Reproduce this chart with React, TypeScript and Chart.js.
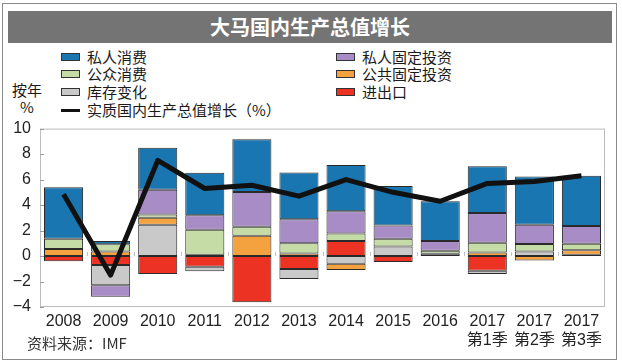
import React, { useEffect, useRef } from 'react';
import { Chart, registerables } from 'chart.js';

Chart.register(...registerables);

// ---- data ----
const categories: (string | string[])[] = [
  '2008', '2009', '2010', '2011', '2012', '2013', '2014', '2015', '2016',
  ['2017', '第1季'], ['2017', '第2季'], ['2017', '第3季'],
];
const netExports = [-0.4, -0.7, -1.42, -0.85, -3.62, -1.02, 1.17, -0.47, null, -1.15, null, 0.1];
const inventory = [null, -1.6, 2.45, -0.35, null, -0.78, -0.6, 0.75, 0.17, -0.27, 0.35, null];
const publicInvestment = [0.55, 0.36, 0.55, 0.1, 1.6, 0.2, -0.5, null, null, 0.28, -0.35, 0.35];
const publicConsumption = [0.8, 0.56, 0.25, 1.96, 0.7, 0.8, 0.6, 0.6, 0.25, 0.76, 0.6, 0.52];
const privateInvestment = [null, -0.9, 1.95, 1.14, 2.73, 1.89, 1.75, 1.05, 0.75, 2.34, 1.5, 1.39];
const privateConsumption = [4.05, 0.25, 3.3, 3.33, 4.14, 3.66, 3.62, 3.1, 3.13, 3.67, 3.8, 3.94];
const gdpGrowth = [4.85, -1.5, 7.5, 5.3, 5.55, 4.7, 6.0, 5.0, 4.3, 5.7, 5.85, 6.3];
const yTicks = [10, 8, 6, 4, 2, 0, -2, -4];

const titleText = '大马国内生产总值增长';
const seriesNames = {
  privateConsumption: '私人消费',
  publicConsumption: '公众消费',
  inventory: '库存变化',
  privateInvestment: '私人固定投资',
  publicInvestment: '公共固定投资',
  netExports: '进出口',
  gdp: '实质国内生产总值增长（%）',
};
const unitLabel = ['按年', '%'];
const sourceText = '资料来源：IMF';

// ---- styles ----
const COLORS = {
  privateConsumption: '#1a76b0',
  publicConsumption: '#c6dca6',
  inventory: '#c9c9c9',
  privateInvestment: '#a88cc6',
  publicInvestment: '#f4a23f',
  netExports: '#ec3323',
};
const FONT = '"Liberation Sans", "Noto Sans CJK SC", Arial, sans-serif';
const CJK = '"Noto Sans CJK SC", "Liberation Sans", sans-serif';

const framePlugin = {
  id: 'frame',
  beforeDatasetsDraw(chart: any) {
    const { ctx, chartArea: a, scales } = chart;
    ctx.save();
    ctx.strokeStyle = '#bdbdbd';
    ctx.lineWidth = 1;
    ctx.strokeRect(a.left + 0.5, a.top + 0.5, a.right - a.left - 1, a.bottom - a.top - 1);
    const y = scales.y;
    const x = scales.x;
    ctx.strokeStyle = '#9a9a9a';
    y.ticks.forEach((t: any) => {
      const py = Math.round(y.getPixelForValue(t.value)) + 0.5;
      ctx.beginPath();
      ctx.moveTo(a.left, py);
      ctx.lineTo(a.left + 4, py);
      ctx.stroke();
    });
    const z = Math.round(y.getPixelForValue(0));
    ctx.strokeStyle = '#c4c4c4';
    for (let i = 1; i < categories.length; i++) {
      const px = Math.round((x.getPixelForValue(i - 1) + x.getPixelForValue(i)) / 2) + 0.5;
      ctx.beginPath();
      ctx.moveTo(px, z);
      ctx.lineTo(px, z - 4);
      ctx.stroke();
    }
    ctx.restore();
  },
};

function bar(label: string, data: (number | null)[], color: string) {
  return {
    type: 'bar' as const,
    label,
    data,
    backgroundColor: color,
    borderColor: '#2a2a2a',
    borderWidth: 1,
    borderSkipped: false,
    stack: 'main',
    order: 1,
    barPercentage: 0.83,
    categoryPercentage: 1,
  };
}

function ChartCanvas() {
  const ref = useRef<HTMLCanvasElement | null>(null);
  useEffect(() => {
    if (!ref.current) return;
    const chart = new Chart(ref.current, {
      type: 'bar',
      data: {
        labels: categories as any,
        datasets: [
          {
            type: 'line' as const,
            label: seriesNames.gdp,
            data: gdpGrowth,
            borderColor: '#111111',
            borderWidth: 5,
            pointRadius: 0,
            tension: 0,
            borderJoinStyle: 'round',
            borderCapStyle: 'butt',
            stack: 'gdp',
            order: 0,
          } as any,
          bar(seriesNames.netExports, netExports, COLORS.netExports),
          bar(seriesNames.inventory, inventory, COLORS.inventory),
          bar(seriesNames.publicInvestment, publicInvestment, COLORS.publicInvestment),
          bar(seriesNames.publicConsumption, publicConsumption, COLORS.publicConsumption),
          bar(seriesNames.privateInvestment, privateInvestment, COLORS.privateInvestment),
          bar(seriesNames.privateConsumption, privateConsumption, COLORS.privateConsumption),
        ],
      },
      options: {
        responsive: false,
        animation: false,
        layout: { padding: { left: 0, right: 17, top: 12, bottom: 0 } },
        plugins: {
          legend: { display: false },
          tooltip: { enabled: false },
          title: { display: false },
        },
        scales: {
          x: {
            stacked: true,
            grid: { display: false, drawTicks: false },
            border: { display: false },
            ticks: {
              padding: 5,
              color: '#222222',
              font: { family: FONT, size: 16 },
              maxRotation: 0,
              autoSkip: false,
            },
            afterFit: (s: any) => { s.height = 56; },
          },
          y: {
            stacked: true,
            min: -4,
            max: 10,
            grid: { display: false, drawTicks: false },
            border: { display: false },
            afterBuildTicks: (s: any) => { s.ticks = yTicks.map((v) => ({ value: v })); },
            ticks: {
              padding: 9,
              color: '#222222',
              font: { family: FONT, size: 16 },
              callback: (v: any) => (Number(v) < 0 ? '\u2212' + Math.abs(Number(v)) : String(v)),
            },
            afterFit: (s: any) => { s.width = 40; },
          },
        },
      },
      plugins: [framePlugin],
    });
    return () => chart.destroy();
  }, []);
  return <canvas ref={ref} width={622} height={253} style={{ display: 'block', width: 622, height: 253 }} />;
}

function Swatch({ color }: { color: string }) {
  return (
    <span style={{
      position: 'absolute', left: 0, top: 5, width: 19, height: 8,
      background: color, border: '1px solid #333', boxSizing: 'border-box',
    }} />
  );
}

function LegendItem({ left, top, color, text, line }: { left: number; top: number; color?: string; text: string; line?: boolean }) {
  return (
    <div style={{ position: 'absolute', left, top, height: 18, lineHeight: '18px', fontSize: 15, fontFamily: CJK, color: '#1a1a1a', whiteSpace: 'nowrap' }}>
      {line ? (
        <span style={{ position: 'absolute', left: 0, top: 8, width: 19, height: 3, background: '#111' }} />
      ) : (
        <Swatch color={color as string} />
      )}
      <span style={{ position: 'absolute', left: 26, top: 0 }}>{text}</span>
    </div>
  );
}

export default function App() {
  const rows = [48, 65, 83, 101];
  return (
    <div style={{ position: 'fixed', left: 0, top: 0, width: 622, height: 363, background: '#ffffff', overflow: 'hidden' }}>
      <div style={{ position: 'absolute', left: 2, top: 3, width: 615, height: 357, border: '1px solid #8a8a8a', boxSizing: 'border-box' }} />
      <div style={{
        position: 'absolute', left: 8, top: 11, width: 604, height: 32, background: '#747474',
        color: '#ffffff', fontFamily: CJK, fontWeight: 700, fontSize: 20, lineHeight: '32px', textAlign: 'center',
      }}>{titleText}</div>

      <LegendItem left={61} top={rows[0]} color={COLORS.privateConsumption} text={seriesNames.privateConsumption} />
      <LegendItem left={61} top={rows[1]} color={COLORS.publicConsumption} text={seriesNames.publicConsumption} />
      <LegendItem left={61} top={rows[2]} color={COLORS.inventory} text={seriesNames.inventory} />
      <LegendItem left={61} top={rows[3]} line text={seriesNames.gdp} />
      <LegendItem left={336} top={rows[0]} color={COLORS.privateInvestment} text={seriesNames.privateInvestment} />
      <LegendItem left={336} top={rows[1]} color={COLORS.publicInvestment} text={seriesNames.publicInvestment} />
      <LegendItem left={336} top={rows[2]} color={COLORS.netExports} text={seriesNames.netExports} />

      <div style={{ position: 'absolute', left: 9, top: 81, width: 36, textAlign: 'center', fontFamily: CJK, fontSize: 15, lineHeight: '17px', color: '#1a1a1a' }}>
        {unitLabel[0]}<br />{unitLabel[1]}
      </div>

      <div style={{ position: 'absolute', left: 0, top: 110 }}>
        <ChartCanvas />
      </div>

      <div style={{ position: 'absolute', left: 27, top: 333, fontFamily: CJK, fontSize: 15, lineHeight: '20px', color: '#333' }}>
        {sourceText}
      </div>
    </div>
  );
}
